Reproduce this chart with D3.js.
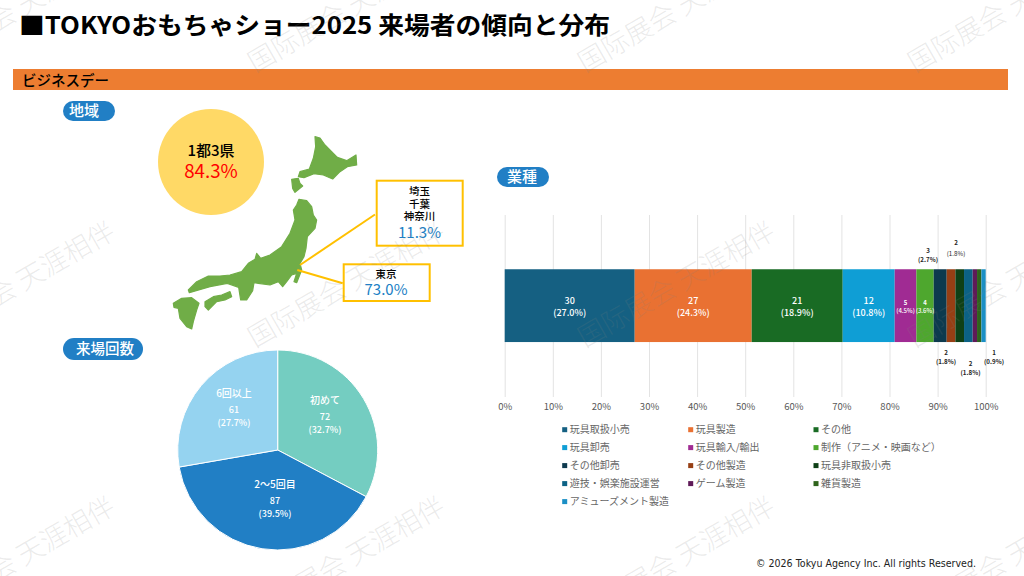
<!DOCTYPE html>
<html lang="ja"><head><meta charset="utf-8">
<script src="https://cdnjs.cloudflare.com/ajax/libs/d3/7.8.5/d3.min.js"></script>
<style>html,body{margin:0;padding:0;background:#fff}svg{display:block}text{font-family:"Noto Sans CJK JP","Noto Sans",sans-serif}</style>
</head><body><svg id="c" width="1024" height="576"></svg>
<script>
const industries=["玩具取扱小売","玩具製造","その他","玩具卸売","玩具輸入/輸出","制作（アニメ・映画など）","その他卸売","その他製造","玩具非取扱小売","遊技・娯楽施設運営","ゲーム製造","雑貨製造","アミューズメント製造"];
const industryCounts=[30,27,21,12,5,4,3,2,2,2,1,1,1];
const industryLabels=["(27.0%)","(24.3%)","(18.9%)","(10.8%)","(4.5%)","(3.6%)","(2.7%)","(1.8%)","(1.8%)","(1.8%)","","","(0.9%)"];
const industryColors=["#156082","#E97132","#196B24","#0F9ED5","#A02B93","#4EA72E","#0D3A4E","#973F14","#0F4016","#0C6285","#5F1A58","#2F641C","#1B8FC5"];
const axisTicks=[0,.1,.2,.3,.4,.5,.6,.7,.8,.9,1];
const visitNames=["初めて","2〜5回目","6回以上"];
const visitCounts=[72,87,61];
const visitLabels=["(32.7%)","(39.5%)","(27.7%)"];
const visitColors=["#74CDC1","#217FC5","#95D3F0"];

const hokkaido=[[495,110],[510,114],[525,135],[545,155],[562,172],[590,182],[618,165],[620,195],[592,200],[570,215],[548,237],[520,225],[492,221],[462,233],[445,230],[450,215],[478,207],[490,175],[497,140]];
const oshima=[[425,238],[445,235],[450,250],[458,258],[435,277],[428,265]];
const honshu=[[447,298],[470,302],[485,320],[490,345],[500,360],[495,385],[472,410],[468,445],[462,470],[450,490],[455,510],[440,548],[432,545],[440,520],[425,525],[410,545],[398,560],[385,545],[360,555],[325,550],[312,548],[308,572],[290,600],[272,600],[266,562],[232,550],[180,560],[118,578],[115,570],[140,545],[175,528],[210,528],[240,525],[275,515],[295,490],[315,478],[320,460],[332,475],[360,465],[395,440],[420,400],[435,360],[430,330],[440,315]];
const shikoku=[[165,605],[190,590],[215,585],[240,575],[245,590],[225,600],[200,605],[175,630],[165,620]];
const kyushu=[[70,610],[95,595],[125,593],[147,610],[140,630],[130,665],[125,687],[110,680],[90,655],[85,625],[72,622]];
const mapShapes=[hokkaido,oshima,honshu,shikoku,kyushu];

const svg=d3.select("#c");
const T=(g,x,y,s,size,fill,weight,anchor)=>g.append("text").attr("x",x).attr("y",y).attr("font-size",size).attr("fill",fill).attr("font-weight",weight||400).attr("text-anchor",anchor||"middle").text(s);
// several lines in one text element
const TL=(g,x,lines)=>{const t=g.append("text").attr("text-anchor","middle");
  lines.forEach(l=>t.append("tspan").attr("x",x).attr("y",l.y).attr("font-size",l.size).attr("fill",l.fill).attr("font-weight",l.w||400).text(l.s));return t;};

// heading
T(svg,19,34,"■TOKYOおもちゃショー2025 来場者の傾向と分布",24,"#000",700,"start").attr("textLength",591).attr("lengthAdjust","spacingAndGlyphs");
svg.append("rect").attr("x",13).attr("y",69).attr("width",995).attr("height",21).attr("fill","#ED7D31");
T(svg,22,86,"ビジネスデー",14.5,"#000",500,"start");
const pill=(x,y,w,h,s,tx,size)=>{svg.append("rect").attr("x",x).attr("y",y).attr("width",w).attr("height",h).attr("rx",h/2).attr("fill","#217FC5");
  T(svg,tx,y+h/2+size*0.36,s,size,"#fff",500,"start");};
pill(63,101,52,20,"地域",69,15);
pill(63,338,80,22,"来場回数",76,14.5);
pill(497,167,52,20,"業種",507,15);

// map
const mx=d3.scaleLinear().domain([0,990]).range([150,480]);
const my=d3.scaleLinear().domain([0,720]).range([100,340]);
const ln=d3.line().x(d=>mx(d[0])).y(d=>my(d[1])).curve(d3.curveLinearClosed);
svg.append("g").selectAll("path").data(mapShapes).join("path").attr("d",ln).attr("fill","#70AD47").attr("stroke","#70AD47").attr("stroke-width",1.2).attr("stroke-linejoin","round");

svg.append("circle").attr("cx",211).attr("cy",162).attr("r",53).attr("fill","#FFD966");
TL(svg,211,[{y:156,s:"1都3県",size:15,fill:"#000",w:500},{y:178,s:"84.3%",size:18.7,fill:"#FF0000",w:400}]);

const box=(x,y,w,h)=>svg.append("rect").attr("x",x).attr("y",y).attr("width",w).attr("height",h).attr("fill","#fff").attr("stroke","#FFC000").attr("stroke-width",2);
const conn=(a,b,c,d)=>svg.append("line").attr("x1",a).attr("y1",b).attr("x2",c).attr("y2",d).attr("stroke","#FFC000").attr("stroke-width",2);
conn(375,214.5,300,265);conn(342.7,283.3,297.3,270);
box(376.7,180.7,86,65);box(343.7,264.3,86,36.7);
TL(svg,419.5,[{y:195,s:"埼玉",size:10.5,fill:"#000",w:500},{y:207.5,s:"千葉",size:10.5,fill:"#000",w:500},{y:220,s:"神奈川",size:10.5,fill:"#000",w:500},{y:238,s:"11.3%",size:15,fill:"#217FC5"}]);
TL(svg,386,[{y:278,s:"東京",size:10.5,fill:"#000",w:500},{y:295,s:"73.0%",size:15,fill:"#217FC5"}]);

// stacked bar
const total=d3.sum(industryCounts);
const x=d3.scaleLinear().domain([0,1]).range([504.7,985.7]);
const y=d3.scaleBand().domain(["業種"]).range([214.65,396.65]).paddingInner(0).paddingOuter(.75);
const axis=d3.axisBottom(x).tickValues(axisTicks).tickFormat(d3.format(".0%")).tickSize(182).tickPadding(6);
const gAxis=svg.append("g").attr("transform","translate(0,215)").call(axis);
gAxis.select(".domain").remove();
gAxis.selectAll("line").attr("stroke","#E3E3E3").attr("stroke-width",1);
gAxis.selectAll("text").attr("font-size",9.5).attr("fill","#595959").style("font-family",'"Noto Sans CJK JP"');
let cum=0;
const segs=industryCounts.map((v,i)=>{const s={i,v,a:cum/total,b:(cum+v)/total};cum+=v;return s;});
svg.append("g").selectAll("rect").data(segs).join("rect")
  .attr("x",d=>x(d.a)).attr("width",d=>x(d.b)-x(d.a)).attr("y",y("業種")).attr("height",y.bandwidth()).attr("fill",d=>industryColors[d.i]);
const inner=svg.append("g");
segs.slice(0,6).forEach(d=>{const cx=(x(d.a)+x(d.b))/2,small=d.i>=4,fs=small?6:9;
  TL(inner,cx,[{y:small?304.5:303.5,s:d.v,size:fs,fill:"#fff",w:small?700:500},{y:small?312.5:316,s:industryLabels[d.i],size:fs,fill:"#fff",w:500}]);});
// outside labels: [segment, label centre, first baseline, second baseline]
const outer=[[6,928,252.5,261.5],[7,956,244.5,255.5],[8,946,355,364],[9,970.5,366,375],[12,994,355,364]];
outer.forEach(o=>{TL(svg,o[1],[{y:o[2],s:industryCounts[o[0]],size:6.2,fill:"#262626",w:700},{y:o[3],s:industryLabels[o[0]],size:6.2,fill:"#262626",w:o[0]==7?400:700}]);});

// legend
const legendX=[564.7,690.7,816],legendY=[429.7,447.6,465.6,483.6,501.6];
industries.forEach((n,i)=>{const lx=legendX[i%3],ly=legendY[Math.floor(i/3)];
  svg.append("rect").attr("x",lx-2.5).attr("y",ly-2.5).attr("width",5).attr("height",5).attr("fill",industryColors[i]);
  T(svg,lx+5,ly+3.6,n,10,"#666",400,"start");});

// pie
const pie=d3.pie().sort(null)(visitCounts);
const arc=d3.arc().innerRadius(0).outerRadius(100);
const g=svg.append("g").attr("transform","translate(277.7,450)");
g.selectAll("path").data(pie).join("path").attr("d",arc).attr("fill",(d,i)=>visitColors[i]).attr("stroke","#fff").attr("stroke-width",1);
const labelCentres=[[47.3,-34],[-2.7,50],[-43.7,-41]];
pie.forEach((d,i)=>{const c=labelCentres[i];
  TL(g,c[0],[{y:c[1]-12.5,s:visitNames[i],size:10,fill:"#fff",w:500},{y:c[1]+3.5,s:d.value,size:9,fill:"#fff",w:500},{y:c[1]+16.5,s:visitLabels[i],size:9,fill:"#fff",w:500}]);});

// footer
T(svg,756,567,"© 2026 Tokyu Agency Inc. All rights Reserved.",10.5,"#222",400,"start").style("font-family",'"DejaVu Sans"').attr("textLength",220).attr("lengthAdjust","spacingAndGlyphs");

// watermark
const wmX=[-75,255,585,915],wmY=[73,348,623];
const wm=svg.append("g").attr("pointer-events","none");
wmY.forEach(b=>wmX.forEach(a=>{wm.append("text").attr("transform",`translate(${a},${b}) rotate(-30)`).attr("font-size",27).attr("fill","#808080").attr("fill-opacity",.17).attr("font-weight",300).style("font-family",'"Noto Sans CJK SC"').text("国际展会 天涯相伴");}));
</script></body></html>
